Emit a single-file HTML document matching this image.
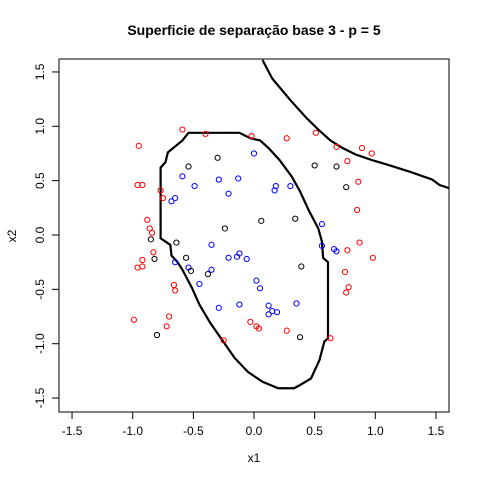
<!DOCTYPE html>
<html><head><meta charset="utf-8"><style>
body{margin:0;background:#fff}
svg text{font-family:"Liberation Sans",Arial,sans-serif}
</style></head><body>
<svg id="c" width="480" height="480" xmlns="http://www.w3.org/2000/svg">
<defs><clipPath id="clip"><rect x="59" y="59" width="390" height="353"/></clipPath></defs>
<text x="254" y="35" text-anchor="middle" font-size="14" font-weight="bold">Superficie de separação base 3 - p = 5</text>
<rect x="59" y="59" width="390" height="353" fill="none" stroke="#000" stroke-width="1"/>
<text x="254" y="462" text-anchor="middle" font-size="12">x1</text>
<text x="16" y="236" text-anchor="middle" font-size="12" transform="rotate(-90 16 236)">x2</text>
<g id="axes"></g>
<g id="marks" clip-path="url(#clip)"></g>
</svg>
<script>
const xTicks=[-1.5,-1,-0.5,0,0.5,1,1.5];
const yTicks=[-1.5,-1,-0.5,0,0.5,1,1.5];
const xTickLabels=["-1.5","-1.0","-0.5","0.0","0.5","1.0","1.5"];
const yTickLabels=["-1.5","-1.0","-0.5","0.0","0.5","1.0","1.5"];
const redX=[-0.95,-0.59,-0.40,-0.96,-0.92,-0.88,-0.86,-0.84,-0.92,-0.92,-0.96,-0.75,-0.77,-0.83,-0.66,-0.65,-0.70,-0.72,-0.99,-0.25,-0.03,0.02,0.04,0.27,0.63,0.75,0.77,0.87,0.98,0.78,0.76,0.85,0.86,0.77,0.68,0.51,0.27,0.97,0.89,-0.02];
const redY=[0.82,0.97,0.93,0.46,0.46,0.14,0.06,0.02,-0.23,-0.29,-0.30,0.34,0.41,-0.16,-0.46,-0.51,-0.75,-0.84,-0.78,-0.97,-0.80,-0.84,-0.86,-0.88,-0.95,-0.34,-0.14,-0.07,-0.21,-0.48,-0.53,0.23,0.49,0.68,0.81,0.94,0.89,0.75,0.80,0.91];
const blueX=[0.00,-0.13,-0.21,-0.59,-0.49,-0.29,0.18,0.17,0.30,0.56,-0.35,-0.12,-0.14,-0.21,-0.06,-0.54,-0.45,-0.35,0.02,0.05,0.12,0.15,0.19,0.12,0.35,-0.12,-0.29,-0.68,-0.65,0.66,0.68,0.56,-0.65];
const blueY=[0.75,0.52,0.38,0.54,0.45,0.51,0.45,0.41,0.45,0.10,-0.09,-0.17,-0.20,-0.21,-0.22,-0.30,-0.45,-0.32,-0.42,-0.49,-0.65,-0.70,-0.71,-0.73,-0.63,-0.64,-0.67,0.31,0.34,-0.13,-0.15,-0.10,-0.25];
const blackX=[-0.30,-0.54,0.50,0.68,0.76,0.38,0.39,0.34,0.06,-0.24,-0.85,-0.64,-0.82,-0.56,-0.38,-0.52,-0.80];
const blackY=[0.71,0.63,0.64,0.63,0.44,-0.94,-0.29,0.15,0.13,0.06,-0.04,-0.07,-0.22,-0.21,-0.36,-0.33,-0.92];
const loopX=[-0.54,-0.12,-0.03,0.05,0.12,0.21,0.31,0.38,0.45,0.53,0.56,0.57,0.61,0.61,0.58,0.54,0.47,0.38,0.33,0.20,0.07,-0.05,-0.16,-0.26,-0.36,-0.45,-0.51,-0.59,-0.63,-0.68,-0.69,-0.77,-0.77,-0.73,-0.71,-0.59];
const loopY=[0.94,0.94,0.89,0.87,0.80,0.69,0.54,0.40,0.23,0.06,-0.06,-0.21,-0.25,-0.95,-0.98,-1.15,-1.32,-1.38,-1.41,-1.41,-1.35,-1.26,-1.13,-0.97,-0.81,-0.64,-0.49,-0.32,-0.25,-0.19,-0.09,-0.03,0.62,0.67,0.76,0.87];
const upperX=[0.07,0.15,0.30,0.43,0.53,0.63,0.73,0.84,0.97,1.12,1.29,1.47,1.53,1.61,1.7];
const upperY=[1.61,1.44,1.24,1.08,0.97,0.87,0.80,0.74,0.69,0.64,0.58,0.51,0.46,0.43,0.40];
const NS="http://www.w3.org/2000/svg";
const sx=v=>254+v*121.3, sy=v=>235-v*108.7;
const axes=document.getElementById('axes'), marks=document.getElementById('marks');
function mk(tag,attrs,parent){const e=document.createElementNS(NS,tag);for(const k in attrs)e.setAttribute(k,attrs[k]);parent.appendChild(e);return e;}
xTicks.forEach((t,i)=>{
 const l=mk('line',{x1:sx(t),x2:sx(t),y1:412,y2:419,stroke:'#000'},axes);
 
 
 const tx=mk('text',{x:sx(t),y:435,'text-anchor':'middle','font-size':12},axes);tx.textContent=xTickLabels[i];
 
 
});
yTicks.forEach((t,i)=>{
 const l=mk('line',{x1:52,x2:59,y1:sy(t),y2:sy(t),stroke:'#000'},axes);
 
 
 const tx=mk('text',{x:44,y:sy(t),'text-anchor':'middle','font-size':12,transform:`rotate(-90 44 ${sy(t)})`},axes);tx.textContent=yTickLabels[i];
 
 
});
const lp=mk('polygon',{points:loopX.map((x,i)=>sx(x)+','+sy(loopY[i])).join(' '),fill:'none',stroke:'#000','stroke-width':2.2},marks);


const up=mk('polyline',{points:upperX.map((x,i)=>sx(x)+','+sy(upperY[i])).join(' '),fill:'none',stroke:'#000','stroke-width':2.2},marks);


function pts(X,Y,col,name){X.forEach((x,i)=>{
 const c=mk('circle',{cx:sx(x),cy:sy(Y[i]),r:2.6,fill:'none',stroke:col,'stroke-width':1},marks);
 
 
});}
pts(redX,redY,'#ff0000','red-point');
pts(blueX,blueY,'#0000ff','blue-point');
pts(blackX,blackY,'#000000','black-point');
</script>
</body></html>
